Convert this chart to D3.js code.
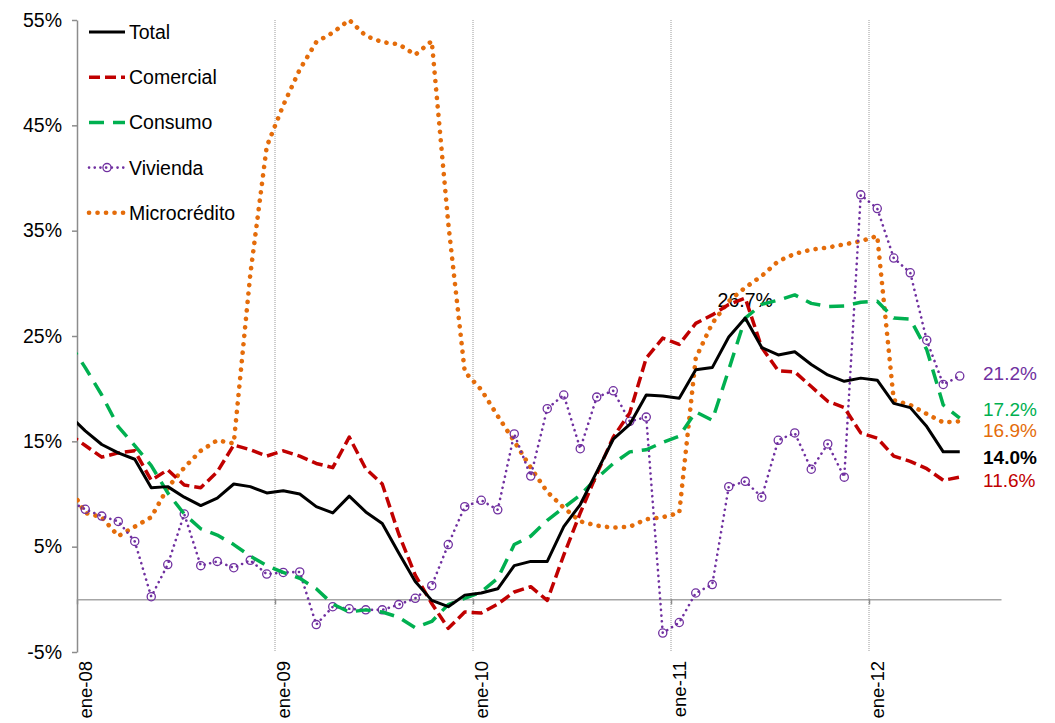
<!DOCTYPE html>
<html>
<head>
<meta charset="utf-8">
<script src="https://cdn.jsdelivr.net/npm/d3@7"></script>
<style>
  html, body { margin: 0; padding: 0; background: #fff; }
  svg { display: block; font-family: "Liberation Sans", Arial, sans-serif; }
</style>
</head>
<body>
<svg id="chart" width="1055" height="723"></svg>
<script>
// Monthly series, dic-07 through jun-12 (month offset from ene-08: -1 .. 53), annual growth in %
const months = d3.range(-1, 54);

const total = [17.5, 16.0, 14.7, 13.9, 13.3, 10.6, 10.7, 9.7, 8.9, 9.6, 10.95, 10.7, 10.1, 10.3, 10.0, 8.8, 8.2, 9.8, 8.3, 7.2, 4.4, 1.7, -0.1, -0.7, 0.4, 0.6, 1.0, 3.2, 3.6, 3.6, 6.9, 9.0, 12.1, 15.2, 16.6, 19.4, 19.3, 19.1, 21.8, 22.0, 24.9, 26.7, 23.9, 23.2, 23.5, 22.3, 21.3, 20.7, 21.0, 20.8, 18.6, 18.2, 16.4, 14.0, 14.0];
const comercial = [15.7, 14.6, 13.5, 13.9, 14.1, 11.3, 12.3, 10.85, 10.6, 12.1, 14.65, 14.2, 13.6, 14.1, 13.6, 12.9, 12.5, 15.4, 12.4, 10.95, 6.2, 2.3, -0.4, -2.75, -1.2, -1.3, -0.45, 0.7, 1.2, -0.1, 4.2, 8.2, 11.9, 15.4, 17.7, 22.9, 24.8, 24.2, 26.2, 27.0, 28.0, 28.6, 23.9, 21.7, 21.6, 20.2, 18.8, 18.2, 15.8, 15.3, 13.6, 13.1, 12.4, 11.3, 11.6];
const consumo = [24.4, 22.0, 19.4, 16.4, 14.6, 12.7, 10.1, 8.1, 6.7, 6.1, 5.2, 4.1, 3.2, 2.55, 2.0, 1.0, -0.45, -1.2, -1.0, -1.2, -1.7, -2.7, -2.1, -0.5, 0.1, 0.7, 2.0, 5.2, 6.0, 7.5, 8.7, 9.9, 11.5, 12.9, 14.0, 14.2, 14.9, 15.5, 17.8, 17.0, 21.8, 26.7, 28.0, 28.4, 28.9, 28.1, 27.8, 27.85, 28.2, 28.3, 26.7, 26.6, 23.7, 18.45, 17.2];
const vivienda = [9.4, 8.55, 7.9, 7.4, 5.5, 0.25, 3.3, 8.1, 3.2, 3.6, 3.0, 3.7, 2.4, 2.55, 2.6, -2.4, -0.7, -0.9, -1.0, -1.0, -0.5, 0.1, 1.3, 5.2, 8.8, 9.4, 8.5, 15.7, 11.7, 18.1, 19.4, 14.3, 19.2, 19.8, 16.9, 17.3, -3.2, -2.2, 0.6, 1.4, 10.7, 11.2, 9.7, 15.1, 15.8, 12.35, 14.75, 11.6, 38.4, 37.1, 32.4, 31.0, 24.6, 20.4, 21.2];
const microcredito = [10.8, 8.2, 7.8, 6.0, 6.9, 7.8, 10.6, 12.5, 14.1, 15.1, 14.8, 30.8, 43.0, 46.9, 50.3, 52.9, 53.8, 55.0, 53.5, 52.9, 52.7, 51.7, 53.0, 35.7, 21.6, 19.9, 17.4, 15.0, 12.5, 10.2, 8.7, 7.4, 7.0, 6.8, 6.9, 7.6, 7.8, 8.2, 22.9, 26.2, 28.3, 29.6, 30.7, 32.1, 32.8, 33.2, 33.4, 33.7, 34.0, 34.5, 18.9, 18.45, 17.6, 16.8, 16.9];

const yTicks = [-5, 5, 15, 25, 35, 45, 55];
const yearTicks = [0, 12, 24, 36, 48];
const yearLabels = ["ene-08", "ene-09", "ene-10", "ene-11", "ene-12"];

const seriesNames = ["Total", "Comercial", "Consumo", "Vivienda", "Microcrédito"];
const seriesValues = [total, comercial, consumo, vivienda, microcredito];

// Presentation of each series
const styles = {
  "Total":        { color: "#000000", width: 3,   dash: null,      cap: "butt" },
  "Comercial":    { color: "#C00000", width: 3.5, dash: "11,5",    cap: "butt" },
  "Consumo":      { color: "#00B050", width: 3.5, dash: "15,9",    cap: "butt" },
  "Vivienda":     { color: "#7030A0", width: 2.6, dash: "0.1,5.6", cap: "round" },
  "Microcrédito": { color: "#E46C0A", width: 4.6, dash: "0.1,8.4", cap: "round" }
};
const endLabelNudge = { "Total": 5, "Comercial": 3, "Consumo": -9, "Vivienda": -3, "Microcrédito": 9 };

const svg = d3.select("#chart");
const fontSize = 19.5;
const endFontSize = 19;
const axisLabelSize = 18.5;

const x = d3.scaleLinear().domain([0, 56]).range([77, 1001]);
const y = d3.scaleLinear().domain([-5, 55]).range([652, 20]);
const px = m => x(m + 0.5); // each month is plotted at the middle of its slot

svg.append("defs").append("clipPath").attr("id", "plotClip")
  .append("rect").attr("x", x(0)).attr("y", 0).attr("width", x(56) - x(0)).attr("height", 723);

// Vertical dotted gridlines at each January
svg.append("g").selectAll("line")
  .data(yearTicks.slice(1))
  .join("line")
  .attr("x1", d => x(d)).attr("x2", d => x(d))
  .attr("y1", y(55)).attr("y2", y(-5))
  .attr("stroke", "#9a9a9a").attr("stroke-width", 1)
  .attr("stroke-dasharray", "1,1");

// Y axis
const yAxis = svg.append("g")
  .attr("transform", `translate(${x(0)},0)`)
  .call(d3.axisLeft(y).tickValues(yTicks).tickSize(5).tickSizeOuter(0).tickPadding(10)
    .tickFormat(d => d + "%"));
yAxis.select(".domain").attr("stroke", "#8c8c8c").attr("stroke-width", 1.5);
yAxis.selectAll(".tick line").attr("stroke", "#8c8c8c").attr("stroke-width", 1.5);
yAxis.selectAll(".tick text").attr("font-size", fontSize).attr("fill", "#000")
  .attr("font-family", "Liberation Sans, Arial, sans-serif");

// Horizontal axis on the zero line
const xAxis = svg.append("g")
  .attr("transform", `translate(0,${y(0)})`)
  .call(d3.axisBottom(x).tickValues(yearTicks).tickSize(5).tickSizeOuter(0).tickFormat(""));
xAxis.select(".domain").attr("stroke", "#a6a6a6").attr("stroke-width", 1.5);
xAxis.selectAll(".tick line").attr("stroke", "#8c8c8c").attr("stroke-width", 1.5);

// Year labels, rotated, along the bottom
svg.append("g").selectAll("text")
  .data(yearTicks)
  .join("text")
  .attr("transform", d => `translate(${px(d)},661) rotate(-90)`)
  .attr("text-anchor", "end")
  .attr("dy", "0.36em")
  .attr("font-size", axisLabelSize)
  .attr("fill", "#000")
  .text((d, i) => yearLabels[i]);

// Label for the peak of the total series
const peakIdx = d3.maxIndex(total);
svg.append("text")
  .attr("x", px(months[peakIdx]))
  .attr("y", y(total[peakIdx]) - 18)
  .attr("dy", "0.35em")
  .attr("text-anchor", "middle")
  .attr("font-size", fontSize)
  .attr("fill", "#000")
  .text(total[peakIdx].toFixed(1) + "%");

// Series lines, clipped to the plot area
const line = d3.line().x((d, i) => px(months[i])).y(d => y(d));
const linesG = svg.append("g").attr("clip-path", "url(#plotClip)");
const drawOrder = ["Microcrédito", "Vivienda", "Consumo", "Comercial", "Total"];
drawOrder.forEach(name => {
  const s = styles[name];
  const vals = seriesValues[seriesNames.indexOf(name)];
  const p = linesG.append("path")
    .datum(vals)
    .attr("d", line)
    .attr("fill", "none")
    .attr("stroke", s.color)
    .attr("stroke-width", s.width)
    .attr("stroke-linejoin", "round")
    .attr("stroke-linecap", s.cap);
  if (s.dash) p.attr("stroke-dasharray", s.dash);
  if (name === "Vivienda") {
    linesG.append("g").selectAll("circle")
      .data(vals.map((v, i) => ({ m: months[i], v })).filter(d => d.m >= 0))
      .join("circle")
      .attr("cx", d => px(d.m)).attr("cy", d => y(d.v))
      .attr("r", 4.1)
      .attr("fill", "none")
      .attr("stroke", s.color)
      .attr("stroke-width", 1.3);
  }
});

// End-of-series value labels
svg.append("g").selectAll("text")
  .data(seriesNames)
  .join("text")
  .attr("x", 983)
  .attr("y", d => y(seriesValues[seriesNames.indexOf(d)].at(-1)) + endLabelNudge[d])
  .attr("dy", "0.35em")
  .attr("font-size", endFontSize)
  .attr("font-weight", d => d === "Total" ? "bold" : "normal")
  .attr("fill", d => styles[d].color)
  .text(d => seriesValues[seriesNames.indexOf(d)].at(-1).toFixed(1) + "%");

// Legend
const legend = svg.append("g");
seriesNames.forEach((name, i) => {
  const s = styles[name];
  const cy = 32 + i * 45.2;
  const l = legend.append("line")
    .attr("x1", 89).attr("x2", 125).attr("y1", cy).attr("y2", cy)
    .attr("stroke", s.color).attr("stroke-width", s.width)
    .attr("stroke-linecap", s.cap);
  if (s.dash) l.attr("stroke-dasharray", s.dash);
  if (name === "Vivienda") {
    legend.append("circle").attr("cx", 107).attr("cy", cy).attr("r", 4.1)
      .attr("fill", "none").attr("stroke", s.color).attr("stroke-width", 1.3);
  }
  legend.append("text")
    .attr("x", 129).attr("y", cy).attr("dy", "0.36em")
    .attr("font-size", fontSize).attr("fill", "#000")
    .text(name);
});
</script>
</body>
</html>
